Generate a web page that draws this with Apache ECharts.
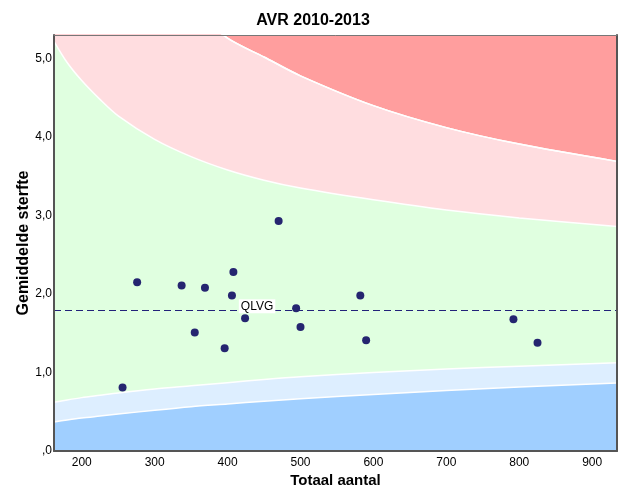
<!DOCTYPE html>
<html>
<head>
<meta charset="utf-8">
<script src="https://cdn.jsdelivr.net/npm/echarts@6/dist/echarts.min.js"></script>
<style>html,body{margin:0;padding:0;background:#fff;}#c{width:626px;height:501px;}</style>
</head>
<body>
<div id="c"></div>
<script>
// Funnel band boundaries
const bandX      = [162, 180, 200, 225, 250, 300, 350, 400, 450, 500, 600, 700, 800, 934];
const upperOuter = [9.6, 8.8, 8.0, 7.3, 6.8, 6.15, 5.65, 5.26, 5.02, 4.78, 4.40, 4.12, 3.91, 3.69];
const upperInner = [5.22, 4.95, 4.72, 4.48, 4.27, 3.97, 3.75, 3.58, 3.45, 3.35, 3.20, 3.07, 2.97, 2.86];
const lowerInner = [0.62, 0.65, 0.68, 0.71, 0.74, 0.79, 0.83, 0.87, 0.91, 0.945, 1.00, 1.045, 1.08, 1.125];
const lowerOuter = [0.37, 0.395, 0.42, 0.445, 0.47, 0.52, 0.565, 0.60, 0.635, 0.665, 0.72, 0.77, 0.815, 0.865];

// Hospitals
const hospTotal = [256, 276, 337, 369, 355, 396, 408, 406, 424, 470, 494, 500, 582, 590, 792, 825];
const hospMort  = [0.81, 2.15, 2.11, 2.08, 1.51, 1.31, 2.28, 1.98, 1.69, 2.93, 1.82, 1.58, 1.98, 1.41, 1.68, 1.38];
const hospName  = ['', '', '', '', '', '', '', '', 'QLVG', '', '', '', '', '', '', ''];

const meanMort = 1.79;
const xMin = 162, xMax = 934, yMax = 5.3;

const pairs = arr => bandX.map((x, i) => [x, arr[i]]);
const lineWhite = { color: '#ffffff', width: 1.5 };

function band(arr, color, origin) {
  return {
    type: 'line', data: pairs(arr), symbol: 'none', smooth: 0.3,
    lineStyle: lineWhite, areaStyle: { color: color, opacity: 1, origin: origin },
    silent: true, clip: true
  };
}

const axisFrame = { show: true, onZero: false, lineStyle: { color: '#555', width: 2 } };

const chart = echarts.init(document.getElementById('c'), null, { renderer: 'canvas' });
chart.setOption({
  animation: false,
  title: {
    text: 'AVR 2010-2013', left: 'center', top: 8,
    textStyle: { fontFamily: 'Liberation Sans', fontSize: 16, fontWeight: 'bold', color: '#000' }
  },
  grid: { left: 54, right: 9, top: 35, bottom: 50 },
  xAxis: [{
    type: 'value', min: xMin, max: xMax, splitNumber: 8, z: 10,
    name: 'Totaal aantal', nameLocation: 'middle', nameGap: 22, nameMoveOverlap: false,
    nameTextStyle: { fontFamily: 'Liberation Sans', fontSize: 15, fontWeight: 'bold', color: '#000' },
    axisLine: axisFrame,
    axisTick: { show: false }, splitLine: { show: false },
    axisLabel: {
      fontFamily: 'Liberation Sans', fontSize: 12, color: '#000', margin: 6,
      formatter: v => (v % 100 === 0 ? String(v) : '')
    }
  }, {
    type: 'value', position: 'top', min: xMin, max: xMax, z: 10,
    axisLine: { show: true, onZero: false, lineStyle: { color: '#777', width: 1 } },
    axisLabel: { show: false }, axisTick: { show: false }, splitLine: { show: false }
  }],
  yAxis: [{
    type: 'value', min: 0, max: yMax, interval: 1, z: 10,
    name: 'Gemiddelde sterfte', nameLocation: 'middle', nameGap: 22, nameMoveOverlap: false,
    nameTextStyle: { fontFamily: 'Liberation Sans', fontSize: 16, fontWeight: 'bold', color: '#000' },
    axisLine: axisFrame,
    axisTick: { show: false }, splitLine: { show: false },
    axisLabel: {
      fontFamily: 'Liberation Sans', fontSize: 12, color: '#000', margin: 2,
      formatter: v => (Math.abs(v - Math.round(v)) > 1e-6 ? '' : (v === 0 ? ',0' : v.toFixed(1).replace('.', ',')))
    }
  }, {
    type: 'value', position: 'right', min: 0, max: yMax, z: 10,
    axisLine: axisFrame,
    axisLabel: { show: false }, axisTick: { show: false }, splitLine: { show: false }
  }],
  series: [
    band(upperOuter, '#FF9E9E', 'end'),
    band(upperOuter, '#FFDDE0', 'start'),
    band(upperInner, '#E0FFE0', 'start'),
    band(lowerInner, '#DDEEFF', 'start'),
    band(lowerOuter, '#A0CFFF', 'start'),
    {
      type: 'line', data: [[xMin, meanMort], [xMax, meanMort]], symbol: 'none', silent: true,
      lineStyle: { color: '#22227A', width: 1, type: [7, 4] }, z: 3
    },
    {
      type: 'scatter', symbolSize: 8, z: 4,
      itemStyle: { color: '#252570', opacity: 1 },
      data: hospTotal.map((x, i) => ({
        value: [x, hospMort[i]],
        label: hospName[i] ? {
          show: true, formatter: hospName[i], position: 'inside', offset: [12, -12],
          fontFamily: 'Liberation Sans', fontSize: 12, color: '#000',
          backgroundColor: '#fff', padding: [1, 2]
        } : { show: false }
      }))
    }
  ]
});
</script>
</body>
</html>
